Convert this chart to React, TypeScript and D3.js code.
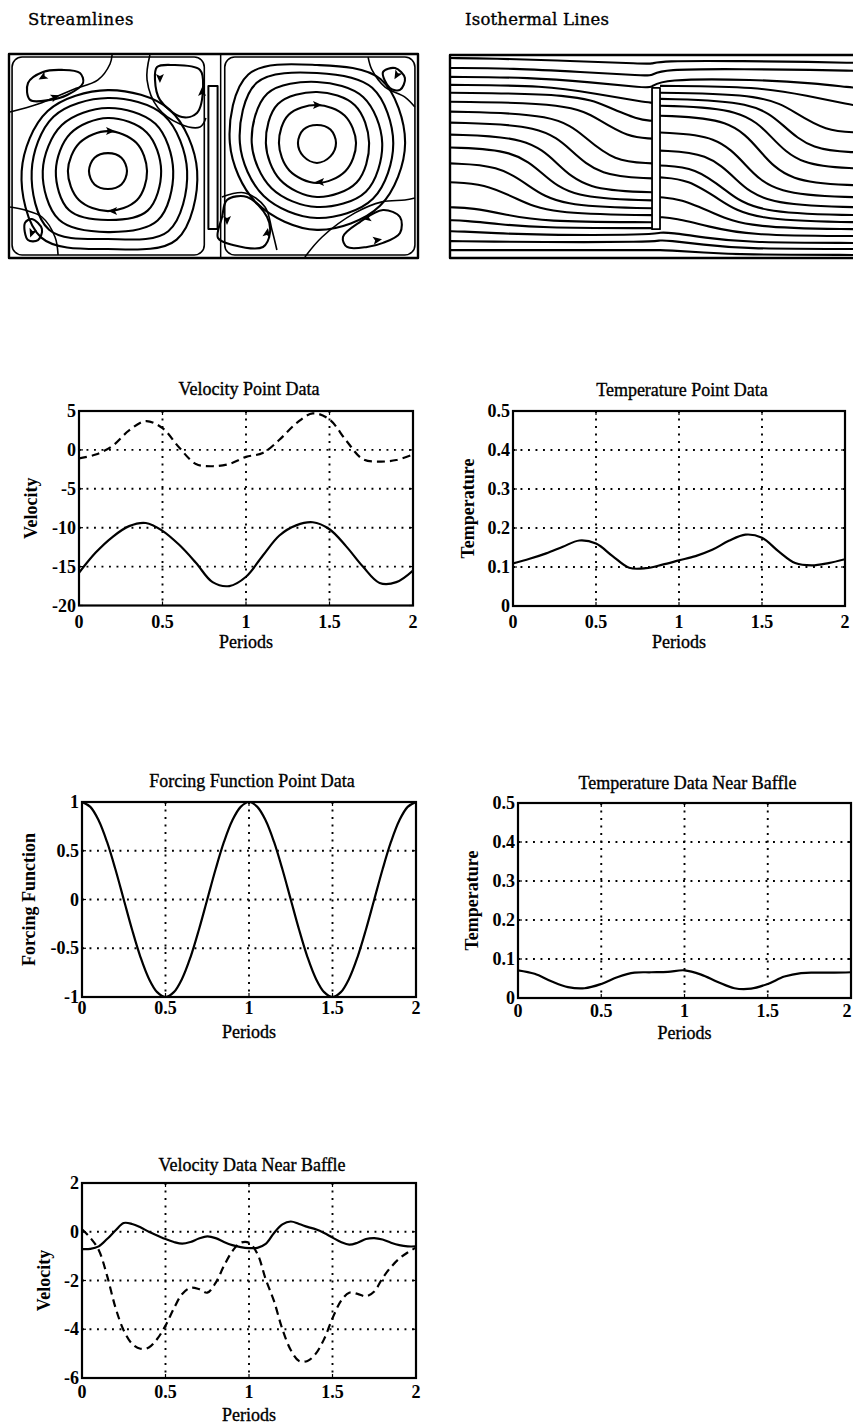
import React from 'react';
import * as d3 from 'd3';

// ---------- Data ----------
const periodsCoarse = [0, 0.1, 0.2, 0.3, 0.4, 0.5, 0.6, 0.7, 0.8, 0.9, 1.0, 1.1, 1.2, 1.3, 1.4, 1.5, 1.6, 1.7, 1.8, 1.9, 2.0];
const periodsFine = [0, 0.05, 0.1, 0.15, 0.2, 0.25, 0.3, 0.35, 0.4, 0.45, 0.5, 0.55, 0.6, 0.65, 0.7, 0.75, 0.8, 0.85, 0.9, 0.95, 1.0,
  1.05, 1.1, 1.15, 1.2, 1.25, 1.3, 1.35, 1.4, 1.45, 1.5, 1.55, 1.6, 1.65, 1.7, 1.75, 1.8, 1.85, 1.9, 1.95, 2.0];

const xTicks = [0, 0.5, 1, 1.5, 2];

const velPointSolid = [-15.8, -13.2, -11.2, -9.8, -9.4, -10.4, -12.2, -14.5, -17.0, -17.5, -16.3, -13.6, -11.0, -9.7, -9.3, -10.2, -12.4, -15.0, -17.1, -17.0, -15.5];
const velPointDashed = [-1.1, -0.6, 0.5, 2.5, 3.7, 2.8, 0.3, -1.8, -2.1, -1.8, -0.9, -0.4, 1.3, 3.4, 4.7, 3.9, 1.2, -1.2, -1.5, -1.3, -0.6];
const velPointTicks = [5, 0, -5, -10, -15, -20];

const tempPoint = [0.109, 0.121, 0.135, 0.152, 0.168, 0.160, 0.128, 0.098, 0.097, 0.106, 0.117, 0.128, 0.144, 0.167, 0.183, 0.175, 0.140, 0.110, 0.104, 0.110, 0.120];
const tempTicks = [0, 0.1, 0.2, 0.3, 0.4, 0.5];

const forcing = [1, 0.95, 0.81, 0.59, 0.31, 0, -0.31, -0.59, -0.81, -0.95, -1, -0.95, -0.81, -0.59, -0.31, 0, 0.31, 0.59, 0.81, 0.95, 1,
  0.95, 0.81, 0.59, 0.31, 0, -0.31, -0.59, -0.81, -0.95, -1, -0.95, -0.81, -0.59, -0.31, 0, 0.31, 0.59, 0.81, 0.95, 1];
const forcingTicks = [1, 0.5, 0, -0.5, -1];

const tempBaffle = [0.071, 0.062, 0.043, 0.028, 0.025, 0.036, 0.054, 0.065, 0.066, 0.067, 0.071, 0.060, 0.041, 0.025, 0.024, 0.036, 0.055, 0.064, 0.065, 0.065, 0.066];

const velBaffleSolid = [-0.71, -0.70, -0.60, -0.30, 0.05, 0.36, 0.32, 0.18, 0.0, -0.15, -0.30, -0.42, -0.49, -0.42, -0.28, -0.19, -0.26, -0.42, -0.55, -0.63, -0.67,
  -0.66, -0.50, -0.05, 0.30, 0.42, 0.32, 0.20, 0.10, -0.05, -0.24, -0.42, -0.53, -0.45, -0.30, -0.26, -0.32, -0.45, -0.55, -0.60, -0.60];
const velBaffleDashed = [0.1, -0.25, -0.75, -1.8, -3.1, -4.05, -4.6, -4.8, -4.75, -4.4, -3.85, -3.15, -2.55, -2.3, -2.35, -2.5, -2.1, -1.4, -0.8, -0.45, -0.45,
  -0.9, -1.95, -2.85, -4.0, -4.85, -5.3, -5.3, -5.0, -4.4, -3.55, -2.85, -2.5, -2.55, -2.65, -2.45, -1.9, -1.45, -1.1, -0.85, -0.65];
const velBaffleTicks = [2, 0, -2, -4, -6];

// Streamlines (cavity domain x 0..2, y 0..1)
const vortexCenters = [[0.484, 0.426], [1.506, 0.564]];
// radii at E, NE, N, NW, W, SW, S, SE (domain units)
const leftRings = [
  [0.093, 0.093, 0.088, 0.093, 0.093, 0.093, 0.088, 0.093],
  [0.191, 0.196, 0.196, 0.196, 0.196, 0.201, 0.196, 0.201],
  [0.260, 0.268, 0.260, 0.260, 0.255, 0.270, 0.240, 0.274],
  [0.319, 0.328, 0.309, 0.319, 0.319, 0.338, 0.299, 0.343],
  [0.387, 0.387, 0.358, 0.377, 0.373, 0.407, 0.333, 0.417],
  [0.436, 0.426, 0.397, 0.417, 0.422, 0.461, 0.382, 0.475],
];
const rightRings = [
  [0.093, 0.093, 0.088, 0.093, 0.093, 0.093, 0.098, 0.093],
  [0.191, 0.191, 0.186, 0.196, 0.186, 0.191, 0.196, 0.196],
  [0.255, 0.262, 0.250, 0.270, 0.250, 0.255, 0.265, 0.274],
  [0.319, 0.319, 0.299, 0.343, 0.319, 0.314, 0.314, 0.338],
  [0.373, 0.382, 0.343, 0.417, 0.377, 0.368, 0.368, 0.387],
  [0.431, 0.441, 0.382, 0.475, 0.426, 0.417, 0.426, 0.436],
];
const eddies = [
  [[0.093, 0.858], [0.166, 0.912], [0.259, 0.922], [0.347, 0.907], [0.362, 0.858], [0.284, 0.799], [0.200, 0.775], [0.103, 0.775]],
  [[0.724, 0.936], [0.802, 0.946], [0.934, 0.922], [0.949, 0.838], [0.919, 0.711], [0.846, 0.691], [0.738, 0.775], [0.714, 0.873]],
  [[0.078, 0.172], [0.112, 0.191], [0.161, 0.142], [0.142, 0.088], [0.093, 0.088]],
  [[1.829, 0.912], [1.888, 0.931], [1.936, 0.882], [1.912, 0.824], [1.863, 0.833]],
  [[1.066, 0.284], [1.164, 0.299], [1.262, 0.201], [1.276, 0.123], [1.242, 0.054], [1.095, 0.064], [1.022, 0.098], [1.042, 0.201]],
  [[1.633, 0.103], [1.716, 0.176], [1.829, 0.235], [1.912, 0.201], [1.912, 0.123], [1.829, 0.074], [1.751, 0.054], [1.653, 0.054]],
];
const separatrices = [
  [[0.005, 0.716], [0.142, 0.755], [0.308, 0.824], [0.435, 0.873], [0.494, 0.951], [0.504, 0.995]],
  [[0.689, 0.995], [0.675, 0.873], [0.729, 0.735], [0.836, 0.657], [0.934, 0.642], [0.963, 0.686]],
  [[0.005, 0.250], [0.078, 0.235], [0.161, 0.201], [0.225, 0.103], [0.240, 0.015]],
  [[1.756, 0.985], [1.775, 0.922], [1.839, 0.838], [1.936, 0.789], [1.985, 0.740]],
  [[1.041, 0.299], [1.154, 0.319], [1.252, 0.250], [1.286, 0.137], [1.310, 0.039]],
  [[1.447, 0.005], [1.531, 0.103], [1.692, 0.221], [1.824, 0.275], [1.936, 0.284], [1.985, 0.294]],
];
const flowArrows = [
  [0.494, 0.623, 0], [0.509, 0.230, 180], [1.506, 0.750, 0], [1.521, 0.373, 180],
  [0.166, 0.887, 150], [0.225, 0.789, -20], [0.738, 0.882, 90], [0.944, 0.814, -90],
  [0.112, 0.123, 110], [1.897, 0.897, 120], [1.066, 0.186, 90], [1.262, 0.123, -80],
  [1.751, 0.196, 170], [1.800, 0.088, -10],
];
const baffleX = [0.975, 1.02];
const baffleY = [0.142, 0.843];

// Isothermal lines (domain x 0..2, y 0..1)
const isoStartL = [0.985, 0.936, 0.892, 0.853, 0.814, 0.770, 0.721, 0.667, 0.608, 0.544, 0.466, 0.373, 0.250, 0.186, 0.132, 0.083, 0.039];
const isoEndL = [0.956, 0.897, 0.838, 0.765, 0.676, 0.588, 0.466, 0.392, 0.324, 0.284, 0.245, 0.211, 0.176, 0.147, 0.113, 0.078, 0.039];
const isoMidL = [0.60, 0.65, 0.70, 0.72, 0.78, 0.74, 0.67, 0.60, 0.53, 0.46, 0.39, 0.33, 0.28, 0.25, 0.23, 0.22, 0.22];
const isoStartR = [0.971, 0.931, 0.882, 0.848, 0.814, 0.784, 0.750, 0.701, 0.618, 0.529, 0.456, 0.397, 0.299, 0.201, 0.127, 0.088, 0.039];
const isoEndR = [0.961, 0.922, 0.838, 0.750, 0.618, 0.520, 0.441, 0.358, 0.299, 0.250, 0.211, 0.176, 0.142, 0.108, 0.074, 0.044, 0.015];
const isoMidR = [0.78, 0.78, 0.78, 0.74, 0.68, 0.62, 0.56, 0.50, 0.43, 0.38, 0.33, 0.30, 0.27, 0.25, 0.23, 0.22, 0.22];
const isoHalfW = [0.40, 0.34, 0.30, 0.24, 0.15, 0.14, 0.14, 0.14, 0.14, 0.14, 0.15, 0.16, 0.17, 0.18, 0.18, 0.18, 0.18];
const isoBaffleX = [0.988, 1.027];
const isoBaffleY = [0.142, 0.838];

// ---------- Layout ----------
const SERIF = "'Liberation Serif', 'Times New Roman', Times, serif";
const VIEW_W = 853;

type Layout = { L: number; T: number; R: number; B: number; titleY: number; ylabelX: number; tickDy: number; xlabelDy: number };

const chartDefs = [
  {
    key: 'vp', title: 'Velocity Point Data', ylabel: 'Velocity', yDomain: [-20, 5], yTicks: velPointTicks,
    layout: { L: 79, T: 411, R: 413, B: 605.5, titleY: 395, ylabelX: 37, tickDy: 22, xlabelDy: 42 },
    series: [{ xs: periodsCoarse, ys: velPointDashed, dashed: true }, { xs: periodsCoarse, ys: velPointSolid, dashed: false }],
  },
  {
    key: 'tp', title: 'Temperature Point Data', ylabel: 'Temperature', yDomain: [0, 0.5], yTicks: tempTicks,
    layout: { L: 513, T: 411, R: 845, B: 606, titleY: 395.5, ylabelX: 474, tickDy: 22, xlabelDy: 42 },
    series: [{ xs: periodsCoarse, ys: tempPoint, dashed: false }],
  },
  {
    key: 'ff', title: 'Forcing Function Point Data', ylabel: 'Forcing Function', yDomain: [-1, 1], yTicks: forcingTicks,
    layout: { L: 82, T: 802, R: 416, B: 997, titleY: 787, ylabelX: 35, tickDy: 17, xlabelDy: 41 },
    series: [{ xs: periodsFine, ys: forcing, dashed: false }],
  },
  {
    key: 'tb', title: 'Temperature Data Near Baffle', ylabel: 'Temperature', yDomain: [0, 0.5], yTicks: tempTicks,
    layout: { L: 518, T: 803, R: 851, B: 998, titleY: 789, ylabelX: 478, tickDy: 18.5, xlabelDy: 41 },
    series: [{ xs: periodsCoarse, ys: tempBaffle, dashed: false }],
  },
  {
    key: 'vb', title: 'Velocity Data Near Baffle', ylabel: 'Velocity', yDomain: [-6, 2], yTicks: velBaffleTicks,
    layout: { L: 82, T: 1183, R: 416, B: 1378, titleY: 1171, ylabelX: 50, tickDy: 20, xlabelDy: 43 },
    series: [{ xs: periodsFine, ys: velBaffleSolid, dashed: false }, { xs: periodsFine, ys: velBaffleDashed, dashed: true }],
  },
];

function Chart({ layout, title, ylabel, yDomain, yTicks, series }: any) {
  const { L, T, R, B, titleY, ylabelX, tickDy, xlabelDy } = layout as Layout;
  const x = d3.scaleLinear().domain([0, 2]).range([L, R]);
  const y = d3.scaleLinear().domain(yDomain).range([B, T]);
  const [y0, y1] = yDomain;
  const innerY = yTicks.filter((v: number) => v !== y0 && v !== y1);
  const innerX = xTicks.filter((v) => v > 0 && v < 2);
  const cx = (L + R) / 2;
  const cy = (T + B) / 2;
  const clipId = `clip-${Math.round(L)}-${Math.round(T)}`;
  const tickX = (v: number) => Math.min(x(v), VIEW_W - 6);
  return (
    <g>
      <defs>
        <clipPath id={clipId}>
          <rect x={L} y={T - 1.5} width={R - L} height={B - T + 3} />
        </clipPath>
      </defs>
      {innerX.map((v) => (
        <line key={'gx' + v} x1={x(v)} x2={x(v)} y1={T} y2={B} stroke="#000" strokeWidth={1.9} strokeDasharray="1.9 5.6" />
      ))}
      {innerY.map((v: number) => (
        <line key={'gy' + v} x1={L} x2={R} y1={y(v)} y2={y(v)} stroke="#000" strokeWidth={1.9} strokeDasharray="1.9 5.6" />
      ))}
      <g clipPath={`url(#${clipId})`}>
        {series.map((s: any, i: number) => {
          const gen = d3
            .line<number>()
            .x((_, k) => x(s.xs[k]))
            .y((d) => y(d))
            .curve(d3.curveCatmullRom.alpha(0.5));
          return (
            <path key={i} d={gen(s.ys) || ''} fill="none" stroke="#000" strokeWidth={2.2}
              strokeDasharray={s.dashed ? '8 5' : undefined} strokeLinejoin="round" />
          );
        })}
      </g>
      <rect x={L} y={T} width={R - L} height={B - T} fill="none" stroke="#000" strokeWidth={2.2} />
      {xTicks.map((v) => (
        <g key={'tx' + v}>
          <line x1={x(v)} x2={x(v)} y1={B} y2={B - 4} stroke="#000" strokeWidth={1.2} />
          <line x1={x(v)} x2={x(v)} y1={T} y2={T + 4} stroke="#000" strokeWidth={1.2} />
          <text x={tickX(v)} y={B + tickDy} textAnchor="middle" fontSize={18} fontWeight="bold">{String(v)}</text>
        </g>
      ))}
      {yTicks.map((v: number) => (
        <g key={'ty' + v}>
          <line x1={L} x2={L + 4} y1={y(v)} y2={y(v)} stroke="#000" strokeWidth={1.2} />
          <line x1={R} x2={R - 4} y1={y(v)} y2={y(v)} stroke="#000" strokeWidth={1.2} />
          <text x={L - 3} y={y(v) + 6} textAnchor="end" fontSize={18} fontWeight="bold">{String(v)}</text>
        </g>
      ))}
      <text x={cx + 3} y={titleY} textAnchor="middle" fontSize={18} stroke="#000" strokeWidth={0.35}>{title}</text>
      <text x={cx} y={B + xlabelDy} textAnchor="middle" fontSize={18} stroke="#000" strokeWidth={0.35}>Periods</text>
      <text transform={`translate(${ylabelX},${cy}) rotate(-90)`} textAnchor="middle" fontSize={18} fontWeight="bold">{ylabel}</text>
    </g>
  );
}

function StreamPanel() {
  const sx = d3.scaleLinear().domain([0, 2]).range([9, 418]);
  const sy = d3.scaleLinear().domain([0, 1]).range([258, 54]);
  const closed = d3.line<number[]>().x((p) => sx(p[0])).y((p) => sy(p[1])).curve(d3.curveCatmullRomClosed.alpha(0.5));
  const open = d3.line<number[]>().x((p) => sx(p[0])).y((p) => sy(p[1])).curve(d3.curveCatmullRom.alpha(0.5));
  const ringPts = (c: number[], radii: number[]) =>
    radii.map((r, k) => [c[0] + r * Math.cos((k * Math.PI) / 4), c[1] + r * Math.sin((k * Math.PI) / 4)]);
  const rings = [
    ...leftRings.map((r) => ringPts(vortexCenters[0], r)),
    ...rightRings.map((r) => ringPts(vortexCenters[1], r)),
  ];
  return (
    <g>
      <text x={28} y={25} fontFamily="'DejaVu Serif', serif" fontSize={16.5} letterSpacing={0.5} stroke="#000" strokeWidth={0.35}>Streamlines</text>
      <g fill="none" stroke="#000" strokeWidth={2.1} strokeLinejoin="round">
        {rings.map((pts, i) => <path key={'r' + i} d={closed(pts) || ''} />)}
        {eddies.map((pts, i) => <path key={'e' + i} d={closed(pts) || ''} />)}
        {separatrices.map((pts, i) => <path key={'s' + i} d={open(pts) || ''} strokeWidth={1.6} />)}
        <rect x={sx(0.015)} y={sy(0.985)} width={sx(0.955) - sx(0.015)} height={sy(0.015) - sy(0.985)} rx={10} strokeWidth={1.6} />
        <rect x={sx(1.055)} y={sy(0.985)} width={sx(1.985) - sx(1.055)} height={sy(0.015) - sy(0.985)} rx={10} strokeWidth={1.6} />
        <line x1={sx(1.035)} x2={sx(1.035)} y1={sy(1)} y2={sy(0)} strokeWidth={1.5} />
        <rect x={sx(baffleX[0])} y={sy(baffleY[1])} width={sx(baffleX[1]) - sx(baffleX[0])} height={sy(baffleY[0]) - sy(baffleY[1])} fill="#fff" strokeWidth={2} />
        <rect x={sx(0)} y={sy(1)} width={sx(2) - sx(0)} height={sy(0) - sy(1)} strokeWidth={2.4} />
      </g>
      <g fill="#000">
        {flowArrows.map(([ax, ay, ang], i) => (
          <path key={'a' + i} d="M5,0 L-4,-4 L-2,0 L-4,4 Z" transform={`translate(${sx(ax)},${sy(ay)}) rotate(${ang})`} />
        ))}
      </g>
    </g>
  );
}

function IsoPanel() {
  const sx = d3.scaleLinear().domain([0, 2]).range([450, 859]);
  const sy = d3.scaleLinear().domain([0, 1]).range([258, 55]);
  const gen = d3.line<number[]>().x((p) => sx(p[0])).y((p) => sy(p[1])).curve(d3.curveBasis);
  const cellPts = (x0: number, x1: number, ys: number, ye: number, mid: number, hw: number) => {
    const d = ye - ys;
    const a = Math.max(0.04, mid - hw);
    const b = Math.min(0.96, mid + hw);
    const w = x1 - x0;
    return [
      [x0, ys], [x0, ys], [x0 + a * w, ys + 0.04 * d], [x0 + mid * w, ys + 0.5 * d], [x0 + b * w, ys + 0.96 * d], [x1, ye], [x1, ye],
    ];
  };
  const paths: string[] = [];
  isoStartL.forEach((ys, i) => {
    const left = cellPts(0, isoBaffleX[0], ys, isoEndL[i], isoMidL[i], isoHalfW[i]);
    const right = cellPts(isoBaffleX[1], 2, isoStartR[i], isoEndR[i], isoMidR[i], isoHalfW[i]);
    const hits = isoEndL[i] < isoBaffleY[1] && isoEndL[i] > isoBaffleY[0];
    if (hits) {
      paths.push(gen(left) || '');
      paths.push(gen(right) || '');
    } else {
      paths.push(gen([...left.slice(0, -1), ...right.slice(1)]) || '');
    }
  });
  return (
    <g>
      <text x={465} y={25} fontFamily="'DejaVu Serif', serif" fontSize={16.5} letterSpacing={0.2} stroke="#000" strokeWidth={0.35}>Isothermal Lines</text>
      <g fill="none" stroke="#000" strokeWidth={2.1} strokeLinejoin="round">
        {paths.map((d, i) => <path key={i} d={d} />)}
        <rect x={sx(isoBaffleX[0])} y={sy(isoBaffleY[1])} width={sx(isoBaffleX[1]) - sx(isoBaffleX[0])} height={sy(isoBaffleY[0]) - sy(isoBaffleY[1])} fill="#fff" strokeWidth={1.8} />
        <rect x={sx(0)} y={sy(1)} width={sx(2) - sx(0)} height={sy(0) - sy(1)} strokeWidth={2.4} />
      </g>
    </g>
  );
}

export default function App() {
  return (
    <svg width={853} height={1426} viewBox="0 0 853 1426" fontFamily={SERIF}
      style={{ position: 'absolute', left: 0, top: 0, background: '#fff', display: 'block' }}>
      <rect x={0} y={0} width={853} height={1426} fill="#fff" />
      <StreamPanel />
      <IsoPanel />
      {chartDefs.map((c) => (
        <Chart key={c.key} layout={c.layout} title={c.title} ylabel={c.ylabel} yDomain={c.yDomain} yTicks={c.yTicks} series={c.series} />
      ))}
    </svg>
  );
}
